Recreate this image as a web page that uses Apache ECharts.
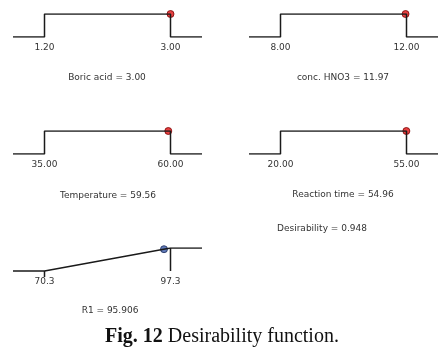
<!DOCTYPE html>
<html>
<head>
<meta charset="utf-8">
<script src="https://cdn.jsdelivr.net/npm/echarts@6/dist/echarts.min.js"></script>
<style>
  html, body { margin: 0; padding: 0; background: #fff; }
  #chart { width: 445px; height: 353px; }
</style>
</head>
<body>
<div id="chart"></div>
<script>
// factor settings (all desirability = 1 inside their range)
const factorNames = ['Boric acid', 'conc. HNO3', 'Temperature', 'Reaction time'];
const factorLows = [1.20, 8.00, 35.00, 20.00];
const factorHighs = [3.00, 12.00, 60.00, 55.00];
const factorValues = [3.00, 11.97, 59.56, 54.96];
const factorDecimals = [2, 2, 2, 2];

// response
const responseName = 'R1';
const responseLow = 70.3;
const responseHigh = 97.3;
const responseValue = 95.906;
const responseD = 0.948;

const overallDesirability = 0.948;

// panel boxes: [left, top] of the d=1 line, width, height
const panelBoxes = [[13, 14], [249, 14], [13, 131], [249, 131], [13, 248]];
const panelW = 189, panelH = 23;
const titlePos = [[107, 78], [343, 78], [108, 196], [343, 195], [110, 311]];

const lineStyle = { color: '#1a1a1a', width: 1.5 };
const font = 'DejaVu Sans';
const tickDrop = 0.26; // small tick below the response axis

const grids = [], xAxes = [], yAxes = [], series = [], texts = [];

function addPanel(i, low, high, dec, yMin) {
  const [l, t] = panelBoxes[i];
  const pad = (high - low) * 0.25;
  grids.push({ left: l, top: t, width: panelW, height: panelH * (1 - yMin) });
  xAxes.push({
    gridIndex: i, type: 'value', min: low - pad, max: high + pad,
    axisLine: { show: false }, axisTick: { show: false }, splitLine: { show: false },
    axisLabel: {
      customValues: [low, high], margin: i === 4 ? 0 : 6,
      fontFamily: font, fontSize: 9, color: '#333',
      formatter: v => v.toFixed(dec)
    }
  });
  yAxes.push({ gridIndex: i, type: 'value', min: yMin, max: 1, show: false });
}

factorNames.forEach((name, i) => {
  const lo = factorLows[i], hi = factorHighs[i];
  const pad = (hi - lo) * 0.25;
  addPanel(i, lo, hi, factorDecimals[i], 0);
  series.push({
    type: 'line', xAxisIndex: i, yAxisIndex: i, symbol: 'none', lineStyle,
    data: [[lo - pad, 0], [lo, 0], [lo, 1], [hi, 1], [hi, 0], [hi + pad, 0]]
  });
  series.push({
    type: 'scatter', xAxisIndex: i, yAxisIndex: i, symbolSize: 7,
    itemStyle: { color: '#e01010', borderColor: '#7a0000', borderWidth: 1 },
    data: [[factorValues[i], 1]]
  });
  texts.push({
    type: 'text', x: titlePos[i][0], y: titlePos[i][1],
    style: { text: name + ' = ' + factorValues[i].toFixed(2), font: '9px ' + font,
      fill: '#333', align: 'center', verticalAlign: 'middle' }
  });
});

// response panel
{
  const i = 4;
  const lo = responseLow, hi = responseHigh, pad = (hi - lo) * 0.25;
  addPanel(i, lo, hi, 1, -tickDrop);
  series.push({
    type: 'line', xAxisIndex: i, yAxisIndex: i, symbol: 'none', lineStyle,
    data: [[lo - pad, 0], [lo, 0], [hi, 1], [hi + pad, 1]]
  });
  series.push({
    type: 'line', xAxisIndex: i, yAxisIndex: i, symbol: 'none', lineStyle,
    data: [[hi, 1], [hi, 0]]
  });
  series.push({
    type: 'line', xAxisIndex: i, yAxisIndex: i, symbol: 'none', lineStyle,
    data: [[lo, 0], [lo, -tickDrop]]
  });
  series.push({
    type: 'scatter', xAxisIndex: i, yAxisIndex: i, symbolSize: 7,
    itemStyle: { color: '#3a5aa8', borderColor: '#1a2a5a', borderWidth: 1 },
    data: [[responseValue, responseD]]
  });
  texts.push({
    type: 'text', x: titlePos[i][0], y: titlePos[i][1],
    style: { text: responseName + ' = ' + responseValue.toFixed(3), font: '9px ' + font,
      fill: '#333', align: 'center', verticalAlign: 'middle' }
  });
}

texts.push({
  type: 'text', x: 322, y: 229,
  style: { text: 'Desirability = ' + overallDesirability.toFixed(3), font: '9px ' + font,
    fill: '#333', align: 'center', verticalAlign: 'middle' }
});

texts.push({
  type: 'text', x: 222, y: 337,
  style: {
    text: '{b|Fig. 12} Desirability function.',
    font: '20px "Liberation Serif"', fill: '#111', align: 'center', verticalAlign: 'middle',
    rich: { b: { fontWeight: 'bold', fontSize: 20, fontFamily: 'Liberation Serif', fill: '#111' } }
  }
});

const chart = echarts.init(document.getElementById('chart'));
chart.setOption({
  animation: false,
  backgroundColor: '#fff',
  grid: grids,
  xAxis: xAxes,
  yAxis: yAxes,
  series: series,
  graphic: texts
});
</script>
</body>
</html>
